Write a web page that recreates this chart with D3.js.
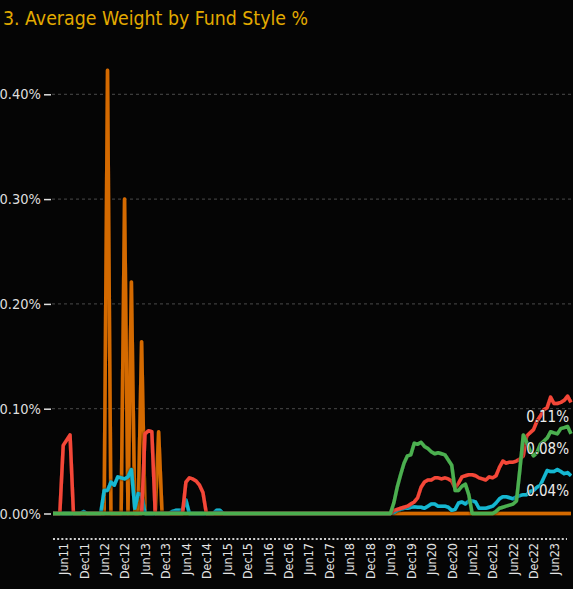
<!DOCTYPE html>
<html>
<head>
<meta charset="utf-8">
<script src="https://cdn.jsdelivr.net/npm/d3@7"></script>
<style>
  html, body { margin: 0; padding: 0; background: #050505; }
  svg { display: block; }
</style>
</head>
<body>
<svg id="chart" width="573" height="589"></svg>
<script>
// Monthly observations, Mar 2011 – Nov 2023
const months = d3.timeMonth.range(new Date(2011, 2, 1), new Date(2023, 11, 1));

const chartTitle = "3. Average Weight by Fund Style %";
const yTicks = [0, 0.1, 0.2, 0.3, 0.4];
const xTickLabels = ["Jun11","Dec11","Jun12","Dec12","Jun13","Dec13","Jun14","Dec14",
  "Jun15","Dec15","Jun16","Dec16","Jun17","Dec17","Jun18","Dec18","Jun19","Dec19",
  "Jun20","Dec20","Jun21","Dec21","Jun22","Dec22","Jun23"];

// Average weight (%) per fund style, one row per calendar year
const growth = [
  0,0,0,0,0,0,0,0,0,0,                                  // 2011 (Mar-Dec)
  0,0,0,0,0,0,0.423,0,0,0,0,0.300,                      // 2012
  0,0.221,0,0,0.164,0,0,0,0,0.078,0,0,                  // 2013
  0,0,0,0,0,0,0,0,0,0,0,0,                              // 2014
  0,0,0,0,0,0,0,0,0,0,0,0,                              // 2015
  0,0,0,0,0,0,0,0,0,0,0,0,                              // 2016
  0,0,0,0,0,0,0,0,0,0,0,0,                              // 2017
  0,0,0,0,0,0,0,0,0,0,0,0,                              // 2018
  0,0,0,0,0,0,0,0,0,0,0,0,                              // 2019
  0,0,0,0,0,0,0,0,0,0,0,0,                              // 2020
  0,0,0,0,0,0,0,0,0,0,0,0,                              // 2021
  0,0,0,0,0,0,0,0,0,0,0,0,                              // 2022
  0,0,0,0,0,0,0,0,0,0,0                                 // 2023 (Jan-Nov)
];

const yieldStyle = [
  0,0,0,0,0,0,0,0,0,0.002,
  0,0,0,0,0,0.022,0.022,0.030,0.027,0.035,0.034,0.033,
  0.035,0.042,0.005,0.019,0.018,0,0,0,0,0,0,0,
  0,0.002,0.003,0.003,0.003,0.013,0,0,0,0,0,0,
  0,0,0.003,0.003,0,0,0,0,0,0,0,0,
  0,0,0,0,0,0,0,0,0,0,0,0,
  0,0,0,0,0,0,0,0,0,0,0,0,
  0,0,0,0,0,0,0,0,0,0,0,0,
  0,0,0,0,0,0,0.001,0.003,0.004,0.005,0.005,0.006,
  0.0065,0.006,0.006,0.005,0.007,0.009,0.009,0.007,0.007,0.007,0.006,0.003,
  0.004,0.010,0.011,0.009,0.012,0.012,0.011,0.005,0.005,0.005,0.006,0.007,
  0.010,0.014,0.016,0.016,0.015,0.014,0.016,0.017,0.018,0.018,0.021,0.022,
  0.025,0.027,0.034,0.041,0.040,0.040,0.042,0.040,0.038,0.039,0.036
];

const value = [
  0,0,0,0.065,0.070,0.075,0,0,0,0,
  0,0,0,0,0,0,0,0,0,0,0,0,
  0,0,0,0,0,0.076,0.079,0.078,0,0,0,0,
  0,0,0,0,0,0.030,0.034,0.033,0.031,0.027,0.020,0,
  0,0,0,0,0,0,0,0,0,0,0,0,
  0,0,0,0,0,0,0,0,0,0,0,0,
  0,0,0,0,0,0,0,0,0,0,0,0,
  0,0,0,0,0,0,0,0,0,0,0,0,
  0,0,0,0,0,0,0.003,0.004,0.005,0.006,0.007,0.009,
  0.011,0.015,0.025,0.030,0.032,0.032,0.034,0.034,0.033,0.034,0.033,0.031,
  0.024,0.029,0.035,0.036,0.037,0.037,0.036,0.034,0.033,0.032,0.035,0.034,
  0.036,0.044,0.050,0.048,0.049,0.049,0.050,0.052,0.055,0.074,0.077,0.080,
  0.088,0.093,0.099,0.101,0.111,0.105,0.105,0.106,0.108,0.112,0.106
];

const garp = [
  0,0,0,0,0,0,0,0,0,0,
  0,0,0,0,0,0,0,0,0,0,0,0,
  0,0,0,0,0,0,0,0,0,0,0,0,
  0,0,0,0,0,0,0,0,0,0,0,0,
  0,0,0,0,0,0,0,0,0,0,0,0,
  0,0,0,0,0,0,0,0,0,0,0,0,
  0,0,0,0,0,0,0,0,0,0,0,0,
  0,0,0,0,0,0,0,0,0,0,0,0,
  0,0,0,0,0,0,0.010,0.025,0.037,0.048,0.055,0.056,
  0.067,0.066,0.068,0.064,0.062,0.059,0.057,0.058,0.057,0.056,0.051,0.046,
  0.022,0.022,0.026,0.028,0.018,0,0,0,0,0,0,0,
  0.002,0.005,0.006,0.007,0.008,0.009,0.012,0.042,0.075,0.068,0.060,0.055,
  0.058,0.066,0.069,0.072,0.078,0.077,0.076,0.081,0.082,0.083,0.076
];

// Draw order: first listed sits underneath
const seriesList = [
  { name: "Growth", values: growth,     color: "#d46a04", endLabel: false },
  { name: "Yield",  values: yieldStyle, color: "#12b7d1", endLabel: true },
  { name: "Value",  values: value,      color: "#f44738", endLabel: true },
  { name: "GARP",   values: garp,       color: "#4caf50", endLabel: true }
];

const svg = d3.select("#chart");
const font = "'DejaVu Sans Condensed', 'DejaVu Sans', sans-serif";

const defs = svg.append("defs");
const shadow = defs.append("filter").attr("id", "lineShadow")
  .attr("x", "-10%").attr("y", "-10%").attr("width", "120%").attr("height", "120%");
shadow.append("feDropShadow").attr("dx", 0).attr("dy", 0)
  .attr("stdDeviation", 1.2).attr("flood-color", "#000").attr("flood-opacity", 0.8);

const x = d3.scalePoint().domain(months).range([53, 571]);
const y = d3.scaleLinear().domain([0, 0.4]).range([513.5, 94.3]);

// Title
svg.append("text")
  .attr("x", 3).attr("y", 25)
  .attr("fill", "#e2aa00")
  .attr("textLength", 305)
  .attr("lengthAdjust", "spacingAndGlyphs")
  .style("font-family", font)
  .style("font-size", "19px")
  .text(chartTitle);

// Horizontal dashed grid
svg.append("g")
  .selectAll("line")
  .data(yTicks.filter(d => d > 0))
  .join("line")
  .attr("x1", 52).attr("x2", 573)
  .attr("y1", d => y(d)).attr("y2", d => y(d))
  .attr("stroke", "#4a4a4a")
  .attr("stroke-width", 1)
  .attr("stroke-dasharray", "3,3");

// Y axis
const yAxis = svg.append("g")
  .attr("transform", "translate(51,0)")
  .call(d3.axisLeft(y).tickValues(yTicks).tickSize(7).tickPadding(3)
    .tickFormat(d => d3.format(".2f")(d) + "%"));
yAxis.select(".domain").remove();
yAxis.selectAll(".tick line").attr("stroke", "#e0e0e0").attr("stroke-width", 1.5);
yAxis.selectAll(".tick text")
  .attr("fill", "#dedede")
  .style("font-family", font)
  .style("font-size", "14.5px");

// X axis: dotted baseline plus rotated half-year labels
svg.append("line")
  .attr("x1", 53).attr("x2", 567)
  .attr("y1", 539).attr("y2", 539)
  .attr("stroke", "#cfcfcf")
  .attr("stroke-width", 2)
  .attr("stroke-dasharray", "2,2.17");

const fmtMonth = d3.timeFormat("%b%y");
const xAxis = svg.append("g")
  .attr("transform", "translate(0,539)")
  .call(d3.axisBottom(x)
    .tickValues(months.filter(m => xTickLabels.includes(fmtMonth(m))))
    .tickSize(0)
    .tickFormat(fmtMonth));
xAxis.select(".domain").remove();
xAxis.selectAll(".tick text")
  .attr("transform", "rotate(-90)")
  .attr("text-anchor", "end")
  .attr("x", -4).attr("y", 0).attr("dy", "0.35em")
  .attr("fill", "#e4e4e4")
  .style("font-family", font)
  .style("font-size", "12.5px");

// Series lines
const line = d3.line()
  .x((d, i) => x(months[i]))
  .y(d => y(d));

svg.append("g")
  .selectAll("path")
  .data(seriesList)
  .join("path")
  .attr("d", s => line(s.values))
  .attr("fill", "none")
  .attr("stroke", s => s.color)
  .attr("stroke-width", 3.5)
  .attr("stroke-linejoin", "round")
  .attr("filter", "url(#lineShadow)");

// Latest-value labels at the right edge
svg.append("g")
  .selectAll("text")
  .data(seriesList.filter(s => s.endLabel))
  .join("text")
  .attr("x", 569)
  .attr("y", s => y(s.values[s.values.length - 1]) + 20)
  .attr("text-anchor", "end")
  .attr("fill", "#ececec")
  .attr("stroke", "#050505")
  .attr("stroke-width", 0.8)
  .attr("paint-order", "stroke")
  .style("font-family", font)
  .style("font-size", "15px")
  .text(s => d3.format(".2f")(s.values[s.values.length - 1]) + "%");
</script>
</body>
</html>
